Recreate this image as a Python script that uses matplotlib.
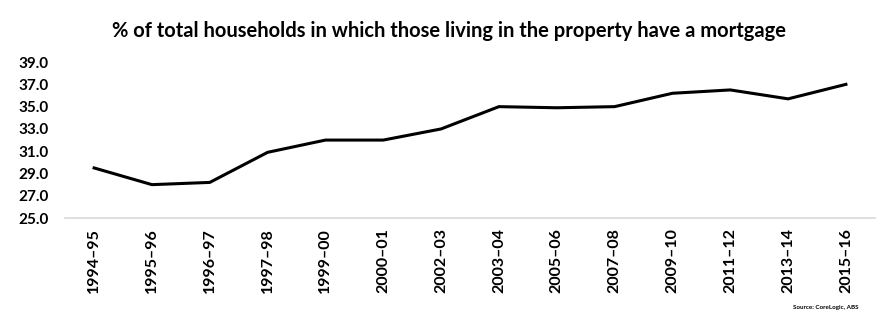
import matplotlib.pyplot as plt

# data
years = ['1994–95', '1995–96', '1996–97', '1997–98', '1999–00', '2000–01', '2002–03',
         '2003–04', '2005–06', '2007–08', '2009–10', '2011–12', '2013–14', '2015–16']
share = [29.5, 28.0, 28.2, 30.9, 32.0, 32.0, 33.0, 35.0, 34.9, 35.0, 36.2, 36.5, 35.7, 37.0]
yticks = [25.0, 27.0, 29.0, 31.0, 33.0, 35.0, 37.0, 39.0]

plt.rcParams['font.family'] = ['Lato', 'DejaVu Sans']

fig = plt.figure(figsize=(8.81, 3.25), dpi=100)
ax = fig.add_axes([0.074, 0.329, 0.919, 0.48])

x = list(range(len(years)))
ax.plot(x, share, color='black', lw=2.2, solid_joinstyle='miter')

ax.set_xlim(-0.5, len(years) - 0.5)
ax.set_ylim(25, 39)
ax.set_yticks(yticks)
ax.set_yticklabels(['%.1f' % v for v in yticks], fontsize=11, fontweight='bold')
ax.set_xticks(x)
ax.set_xticklabels(years, rotation=90, fontsize=11.5, fontweight='bold')
ax.tick_params(axis='x', length=0, pad=7)
ax.tick_params(axis='y', length=0, pad=12)

for s in ['top', 'right', 'left']:
    ax.spines[s].set_visible(False)
ax.spines['bottom'].set_color('#d9d9d9')
ax.spines['bottom'].set_linewidth(1.2)

fig.text(0.51, 0.905, '% of total households in which those living in the property have a mortgage',
         ha='center', va='center', fontsize=14.5, fontweight='bold')
fig.text(0.975, 0.055, 'Source: CoreLogic, ABS', ha='right', va='center', fontsize=4.5,
         fontweight='bold')

fig.savefig('out.png', dpi=100)
